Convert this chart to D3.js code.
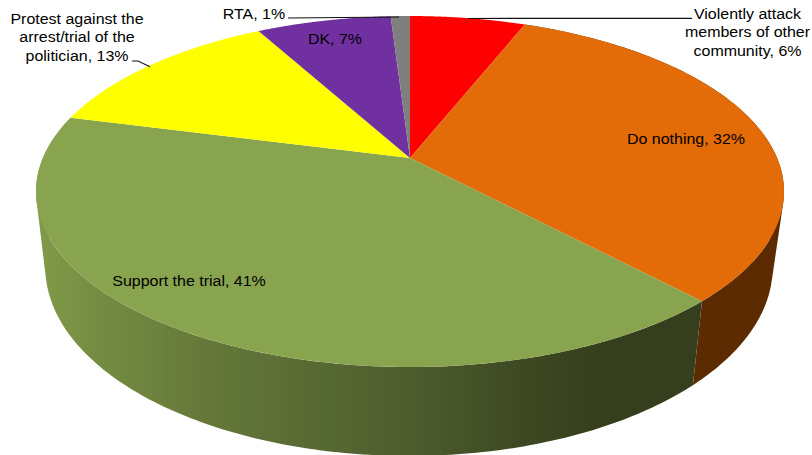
<!DOCTYPE html>
<html><head><meta charset="utf-8">
<script src="https://cdn.jsdelivr.net/npm/d3@7/dist/d3.min.js"></script>
<style>html,body{margin:0;padding:0;background:#fff}svg{display:block}text{font-family:"Liberation Sans",Arial,sans-serif;font-size:15px;fill:#000}</style>
</head><body>
<script>
const categories=["Violently attack members of other community","Do nothing","Support the trial","Protest against the arrest/trial of the politician","DK","RTA"];
const values=[6,32,41,13,7,1];
const topColors=["#ff0000","#e36c09","#88a44f","#ffff00","#7030a0","#7f7f7f"];
const brownWall="#5c2b02";
const wallGreenX=[40,100,200,330,420,520,600,700];
const wallGreenC=["#7f9a48","#748c42","#66793a","#566832","#4c5b2c","#3e4923","#363f1d","#363f1d"];
const labelLines=[["Violently attack","members of other","community, 6%"],["Do nothing, 32%"],["Support the trial, 41%"],["Protest against the","arrest/trial of the","politician, 13%"],["DK, 7%"],["RTA, 1%"]];
const labelPos=[[747.5,18.7],[686,144],[189,286],[77,23.7],[335,44],[254,19]];
const W=812,H=455;
const svg=d3.select("body").append("svg").attr("width",W).attr("height",H);
const pie=d3.pie().sort(null).value(d=>d)(values);
const top3d={cx:410,cy:158,a:367.1,b:169.1,k:-0.191};
const bot3d={cx:409,cy:231,a:357,b:182,k:-0.191};
const project=(p,t)=>{const u=Math.sin(t),v=-Math.cos(t),w=1+p.k*v;return [p.cx+p.a*u/w,p.cy+p.b*v/w];};
const line=d3.line();
const arcPts=(p,a0,a1)=>d3.range(0,121).map(i=>project(p,a0+(a1-a0)*i/120));
const xSpan=d3.scaleLinear().domain(d3.extent(wallGreenX)).range([0,1]);
const grad=svg.append("defs").append("linearGradient").attr("id","wallGreen").attr("gradientUnits","userSpaceOnUse")
  .attr("x1",wallGreenX[0]).attr("x2",wallGreenX[wallGreenX.length-1]).attr("y1",0).attr("y2",0);
wallGreenX.forEach((x,i)=>grad.append("stop").attr("offset",xSpan(x)).attr("stop-color",wallGreenC[i]));
// walls: one path of same-winding quads between the top and bottom rims (no seams, rim tangents included)
[1,2].forEach(i=>{const d=pie[i];const n=180;
  const dStr=d3.range(n).map(j=>{
    const t0=d.startAngle+(d.endAngle-d.startAngle)*j/n,t1=d.startAngle+(d.endAngle-d.startAngle)*(j+1)/n;
    const q=[project(top3d,t0),project(top3d,t1),project(bot3d,t1),project(bot3d,t0)];
    if(d3.polygonArea(q)<0)q.reverse();
    return line(q)+"Z";
  }).join("");
  svg.append("path").attr("d",dStr).attr("fill",i===2?"url(#wallGreen)":brownWall);
});
// top faces
pie.forEach((d,i)=>{
  const pts=[[top3d.cx,top3d.cy]].concat(arcPts(top3d,d.startAngle,d.endAngle));
  svg.append("path").attr("d",line(pts)+"Z").attr("fill",topColors[i]);
});
// leaders
const leaders=[[[692,18.3],[468,18.5]],[[132,61],[138,61],[150,66.7]],[[288,18],[399,17]]];
leaders.forEach(l=>svg.append("path").attr("d",line(l)).attr("fill","none").attr("stroke","#111").attr("stroke-width",1.2));
// labels
labelLines.forEach((ls,i)=>{
  ls.forEach((s,j)=>svg.append("text").attr("text-anchor","middle")
    .attr("transform",`translate(${labelPos[i][0]},${labelPos[i][1]+j*18.6}) scale(1.065,1)`).text(s));
});
</script>
</body></html>
